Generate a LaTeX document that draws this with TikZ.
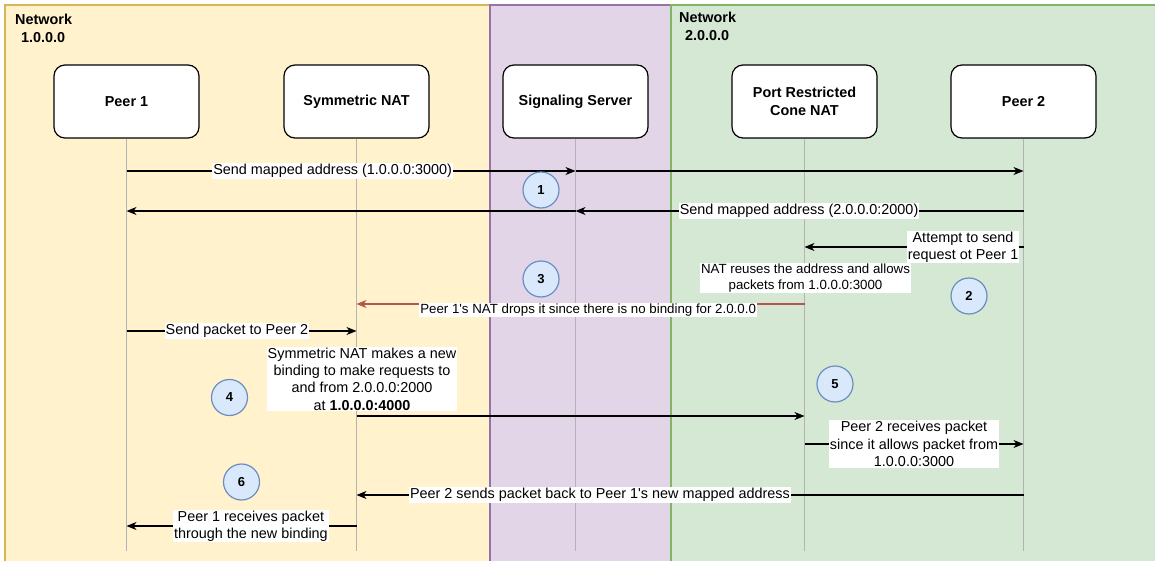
\documentclass[tikz,border=0pt]{standalone}
\usepackage{fontspec}
\setmainfont{Liberation Sans}
\usetikzlibrary{arrows.meta}

\definecolor{netonefill}{HTML}{FFF2CC}
\definecolor{netoneline}{HTML}{D6B656}
\definecolor{srvfill}{HTML}{E1D5E7}
\definecolor{srvline}{HTML}{9673A6}
\definecolor{nettwofill}{HTML}{D5E8D4}
\definecolor{nettwoline}{HTML}{82B366}
\definecolor{badgefill}{HTML}{DAE8FC}
\definecolor{badgeline}{HTML}{6C8EBF}
\definecolor{dropred}{HTML}{B85450}
\definecolor{lifegray}{HTML}{B3B3B3}

\begin{document}
\begin{tikzpicture}[x=1pt, y=-1pt,
  actor/.style={draw=black, fill=white, rounded corners=11pt, line width=1.2pt,
    minimum width=145pt, minimum height=73pt, align=center,
    font=\bfseries\fontsize{14.4}{17.5}\selectfont},
  lifeline/.style={draw=lifegray, line width=1.3pt},
  msg/.style={draw=black, line width=1.2pt, -{Stealth[length=10pt, width=8pt, inset=3pt]}},
  lbl/.style={fill=white, inner xsep=1pt, inner ysep=1pt, align=center,
    font=\fontsize{14.4}{17.3}\selectfont},
  smalllbl/.style={lbl, font=\fontsize{13.3}{16.5}\selectfont},
  badge/.style={circle, draw=badgeline, fill=badgefill, line width=1.2pt,
    minimum size=36pt, inner sep=0pt, font=\bfseries\fontsize{13}{13}\selectfont},
  netlbl/.style={anchor=north west, inner sep=0pt, align=left,
    font=\bfseries\fontsize{14.4}{18}\selectfont}]

\useasboundingbox (0,0) rectangle (1155,561);

% network areas
\fill[white] (0,0) rectangle (1155,561);
\draw[fill=netonefill, draw=netoneline, line width=1.2pt] (5,5) rectangle (490,575);
\draw[fill=srvfill, draw=srvline, line width=1.2pt] (490,5) rectangle (671,575);
\draw[fill=nettwofill, draw=nettwoline, line width=1.2pt] (671,5) rectangle (1170,575);

\node[netlbl] (netone) at (15,13.6) {Network\\\hspace*{6pt}1.0.0.0};
\node[netlbl] (nettwo) at (679,11.6) {Network\\\hspace*{6pt}2.0.0.0};

% participants
\node[actor] (p1)   at (126.5,101.5) {Peer 1};
\node[actor] (nat1) at (356.5,101.5) {Symmetric NAT};
\node[actor] (sig)  at (575.5,101.5) {Signaling Server};
\node[actor] (nat2) at (804.5,101.5) {Port Restricted\\Cone NAT};
\node[actor] (p2)   at (1023.5,101.5) {Peer 2};

% message heights
\coordinate (bot) at (0,551);
\coordinate (m1) at (0,171);
\coordinate (m2) at (0,211);
\coordinate (m3) at (0,247);
\coordinate (m4) at (0,304);
\coordinate (m5) at (0,331);
\coordinate (m6) at (0,416);
\coordinate (m7) at (0,444);
\coordinate (m8) at (0,495);
\coordinate (m9) at (0,526);

% lifelines
\foreach \a in {p1,nat1,sig,nat2,p2}
  \draw[lifeline] (\a.south) -- (\a |- bot);

% 1: exchange of mapped addresses through the signaling server
\draw[msg] (p1 |- m1) -- (sig |- m1) node[lbl, pos=0.459] {Send mapped address (1.0.0.0:3000)};
\draw[msg] (sig |- m1) -- (p2 |- m1);
\draw[msg] (p2 |- m2) -- (sig |- m2) node[lbl, pos=0.501] {Send mapped address (2.0.0.0:2000)};
\draw[msg] (sig |- m2) -- (p1 |- m2);

% 2-3: Peer 2 tries first, Peer 1's NAT drops it
\draw[msg] (p2 |- m3) -- (nat2 |- m3) node[lbl, pos=0.276] {Attempt to send\\request ot Peer 1};
\node[smalllbl] (reuse) at (805.5,278) {NAT reuses the address and allows\\packets from 1.0.0.0:3000};
\draw[msg, draw=dropred] (nat2 |- m4) -- (nat1 |- m4)
  node[smalllbl, pos=0.483, yshift=-6pt] {Peer 1\textquotesingle s NAT drops it since there is no binding for 2.0.0.0};

% 4-5: Peer 1 sends through a new binding
\draw[msg] (p1 |- m5) -- (nat1 |- m5) node[lbl, pos=0.48] {Send packet to Peer 2};
\node[lbl] (newbind) at (362,379) {Symmetric NAT makes a new\\binding to make requests to\\and from 2.0.0.0:2000\\at \textbf{1.0.0.0:4000}};
\draw[msg] (nat1 |- m6) -- (nat2 |- m6);
\draw[msg] (nat2 |- m7) -- (p2 |- m7) node[lbl, pos=0.5] {Peer 2 receives packet\\since it allows packet from\\1.0.0.0:3000};

% 6: reply back to the new mapping
\draw[msg] (p2 |- m8) -- (nat1 |- m8) node[lbl, pos=0.635] {Peer 2 sends packet back to Peer 1\textquotesingle s new mapped address};
\draw[msg] (nat1 |- m9) -- (p1 |- m9) node[lbl, pos=0.459] {Peer 1 receives packet\\through the new binding};

% step markers
\node[badge] (b1) at (541,190) {1};
\node[badge] (b2) at (969,296) {2};
\node[badge] (b3) at (541,279) {3};
\node[badge] (b4) at (229.5,397.5) {4};
\node[badge] (b5) at (835,384) {5};
\node[badge] (b6) at (241.5,482) {6};

\end{tikzpicture}
\end{document}
